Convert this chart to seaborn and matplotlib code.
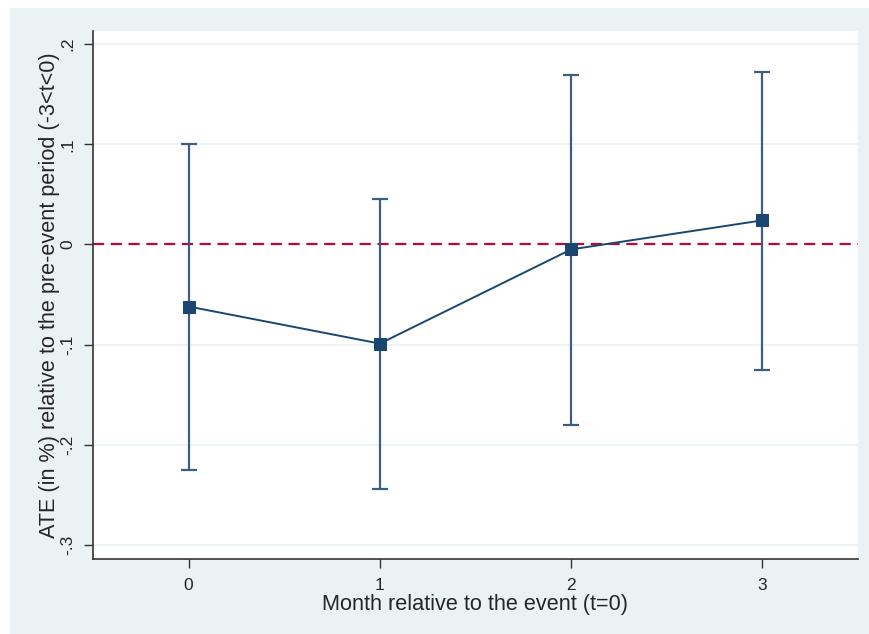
import matplotlib
matplotlib.use("Agg")
import matplotlib.pyplot as plt
import seaborn as sns
import pandas as pd
from matplotlib.patches import Rectangle

months = [0, 1, 2, 3]
ate = [-0.062, -0.099, -0.005, 0.024]
ci_low = [-0.225, -0.244, -0.180, -0.125]
ci_high = [0.100, 0.045, 0.169, 0.172]
yticks = [0.2, 0.1, 0.0, -0.1, -0.2, -0.3]
ytick_labels = [".2", ".1", "0", "-.1", "-.2", "-.3"]
xticks = [0, 1, 2, 3]

sns.set_theme(style="white")
plt.rcParams['font.family'] = ['Liberation Sans', 'DejaVu Sans']

navy = "#1A476F"
bar_col = "#3C5E80"
red = "#C10534"
bg = "#EAF2F3"

fig = plt.figure(figsize=(8.7, 6.34), dpi=100, facecolor="white")
fig.patches.append(Rectangle((10/870, 0), 1 - 10/870, (634-8)/634,
                             transform=fig.transFigure, facecolor=bg,
                             edgecolor="none", zorder=-10))
ax = fig.add_axes([93/870, (634-559)/634, (858-93)/870, (559-31)/634])
ax.set_facecolor("white")

df = pd.DataFrame({"month": months, "ate": ate, "lo": ci_low, "hi": ci_high})

for y in yticks:
    ax.axhline(y, color=bg, lw=1.2, zorder=0)

ax.axhline(0, color=red, lw=1.6, ls=(0, (5, 3)), zorder=1)

ax.errorbar(df["month"], df["ate"],
            yerr=[df["ate"] - df["lo"], df["hi"] - df["ate"]],
            fmt="none", ecolor=bar_col, elinewidth=1.6, capsize=6, capthick=1.6, zorder=2)

sns.lineplot(data=df, x="month", y="ate", ax=ax, color=navy, lw=1.4,
             marker="s", markersize=8.5, markeredgecolor=navy, markerfacecolor=navy,
             zorder=3)

ax.set_xlim(-0.5, 3.5)
ax.set_ylim(-0.314, 0.213)
ax.set_xticks(xticks)
ax.set_xticklabels([str(x) for x in xticks], fontsize=12.5)
ax.set_yticks(yticks)
ax.set_yticklabels(ytick_labels, fontsize=12.5, rotation=90, va="center")
ax.tick_params(axis="x", direction="out", length=6.5, width=1, color="#333333",
               bottom=True, pad=7.5)
ax.tick_params(axis="y", direction="out", length=6.5, width=1, color="#333333",
               left=True, pad=6)

for s in ["top", "right"]:
    ax.spines[s].set_visible(False)
for s in ["left", "bottom"]:
    ax.spines[s].set_color("#333333")
    ax.spines[s].set_linewidth(1.2)

ax.set_xlabel("Month relative to the event (t=0)", fontsize=15.6, labelpad=0.5)
ax.set_ylabel("ATE (in %) relative to the pre-event period (-3<t<0)", fontsize=15.6, labelpad=0.5)

fig.savefig("out.png", dpi=100, facecolor=fig.get_facecolor())
